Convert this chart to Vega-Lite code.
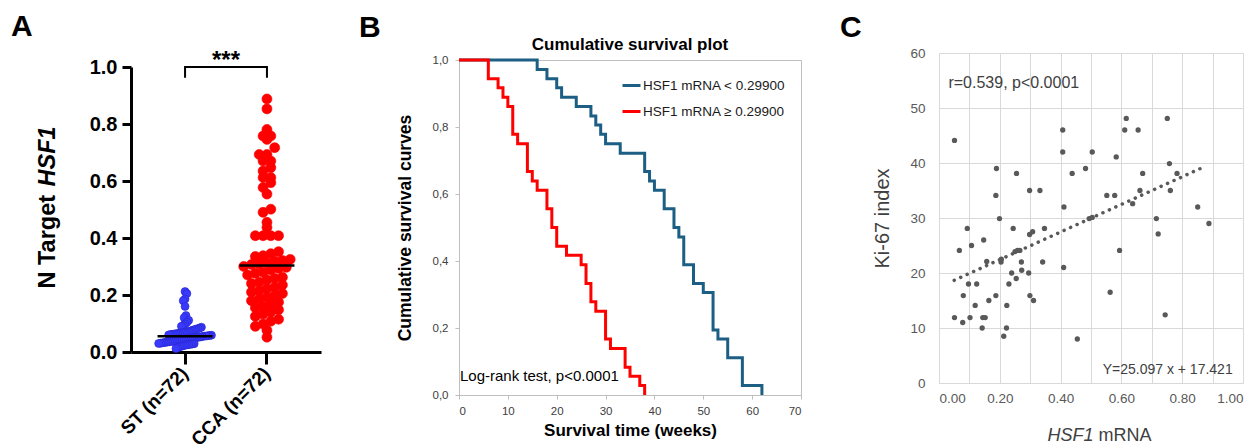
{
  "$schema": "https://vega.github.io/schema/vega-lite/v6.json",
  "background": "white",
  "padding": {"left": 11, "top": 11, "right": 0, "bottom": 0},
  "config": {"font": "Liberation Sans", "view": {"stroke": null}, "title": {"font": "Liberation Sans"}},
  "spacing": 37,
  "bounds": "full",
  "resolve": {"scale": {"color": "independent", "stroke": "independent", "size": "independent", "xOffset": "independent"}, "legend": {"color": "independent"}},
  "datasets": {
    "dotA": [
      {"group": "ST (n=72)", "value": 0.212}, {"group": "ST (n=72)", "value": 0.205}, {"group": "ST (n=72)", "value": 0.186}, {"group": "ST (n=72)", "value": 0.180}, {"group": "ST (n=72)", "value": 0.160}, {"group": "ST (n=72)", "value": 0.128}, {"group": "ST (n=72)", "value": 0.120}, {"group": "ST (n=72)", "value": 0.111}, {"group": "ST (n=72)", "value": 0.104}, {"group": "ST (n=72)", "value": 0.098}, {"group": "ST (n=72)", "value": 0.093}, {"group": "ST (n=72)", "value": 0.090}, {"group": "ST (n=72)", "value": 0.087}, {"group": "ST (n=72)", "value": 0.084}, {"group": "ST (n=72)", "value": 0.082}, {"group": "ST (n=72)", "value": 0.080}, {"group": "ST (n=72)", "value": 0.078}, {"group": "ST (n=72)", "value": 0.076}, {"group": "ST (n=72)", "value": 0.074}, {"group": "ST (n=72)", "value": 0.072}, {"group": "ST (n=72)", "value": 0.070}, {"group": "ST (n=72)", "value": 0.069}, {"group": "ST (n=72)", "value": 0.068}, {"group": "ST (n=72)", "value": 0.067}, {"group": "ST (n=72)", "value": 0.066}, {"group": "ST (n=72)", "value": 0.065}, {"group": "ST (n=72)", "value": 0.064}, {"group": "ST (n=72)", "value": 0.063}, {"group": "ST (n=72)", "value": 0.062}, {"group": "ST (n=72)", "value": 0.061}, {"group": "ST (n=72)", "value": 0.060}, {"group": "ST (n=72)", "value": 0.059}, {"group": "ST (n=72)", "value": 0.058}, {"group": "ST (n=72)", "value": 0.057}, {"group": "ST (n=72)", "value": 0.056}, {"group": "ST (n=72)", "value": 0.056},
      {"group": "ST (n=72)", "value": 0.054}, {"group": "ST (n=72)", "value": 0.053}, {"group": "ST (n=72)", "value": 0.052}, {"group": "ST (n=72)", "value": 0.051}, {"group": "ST (n=72)", "value": 0.050}, {"group": "ST (n=72)", "value": 0.049}, {"group": "ST (n=72)", "value": 0.048}, {"group": "ST (n=72)", "value": 0.047}, {"group": "ST (n=72)", "value": 0.046}, {"group": "ST (n=72)", "value": 0.045}, {"group": "ST (n=72)", "value": 0.044}, {"group": "ST (n=72)", "value": 0.043}, {"group": "ST (n=72)", "value": 0.042}, {"group": "ST (n=72)", "value": 0.041}, {"group": "ST (n=72)", "value": 0.040}, {"group": "ST (n=72)", "value": 0.039}, {"group": "ST (n=72)", "value": 0.038}, {"group": "ST (n=72)", "value": 0.037}, {"group": "ST (n=72)", "value": 0.036}, {"group": "ST (n=72)", "value": 0.035}, {"group": "ST (n=72)", "value": 0.034}, {"group": "ST (n=72)", "value": 0.033}, {"group": "ST (n=72)", "value": 0.032}, {"group": "ST (n=72)", "value": 0.031}, {"group": "ST (n=72)", "value": 0.030}, {"group": "ST (n=72)", "value": 0.029}, {"group": "ST (n=72)", "value": 0.028}, {"group": "ST (n=72)", "value": 0.027}, {"group": "ST (n=72)", "value": 0.026}, {"group": "ST (n=72)", "value": 0.025}, {"group": "ST (n=72)", "value": 0.024}, {"group": "ST (n=72)", "value": 0.022}, {"group": "ST (n=72)", "value": 0.020}, {"group": "ST (n=72)", "value": 0.018}, {"group": "ST (n=72)", "value": 0.015}, {"group": "ST (n=72)", "value": 0.012},
      {"group": "CCA (n=72)", "value": 0.888}, {"group": "CCA (n=72)", "value": 0.853}, {"group": "CCA (n=72)", "value": 0.781}, {"group": "CCA (n=72)", "value": 0.758}, {"group": "CCA (n=72)", "value": 0.758}, {"group": "CCA (n=72)", "value": 0.746}, {"group": "CCA (n=72)", "value": 0.717}, {"group": "CCA (n=72)", "value": 0.693}, {"group": "CCA (n=72)", "value": 0.693}, {"group": "CCA (n=72)", "value": 0.670}, {"group": "CCA (n=72)", "value": 0.670}, {"group": "CCA (n=72)", "value": 0.647}, {"group": "CCA (n=72)", "value": 0.635}, {"group": "CCA (n=72)", "value": 0.612}, {"group": "CCA (n=72)", "value": 0.612}, {"group": "CCA (n=72)", "value": 0.594}, {"group": "CCA (n=72)", "value": 0.577}, {"group": "CCA (n=72)", "value": 0.554}, {"group": "CCA (n=72)", "value": 0.501}, {"group": "CCA (n=72)", "value": 0.490}, {"group": "CCA (n=72)", "value": 0.455}, {"group": "CCA (n=72)", "value": 0.437}, {"group": "CCA (n=72)", "value": 0.408}, {"group": "CCA (n=72)", "value": 0.408}, {"group": "CCA (n=72)", "value": 0.408}, {"group": "CCA (n=72)", "value": 0.408},
      {"group": "CCA (n=72)", "value": 0.352}, {"group": "CCA (n=72)", "value": 0.345}, {"group": "CCA (n=72)", "value": 0.338}, {"group": "CCA (n=72)", "value": 0.335}, {"group": "CCA (n=72)", "value": 0.325}, {"group": "CCA (n=72)", "value": 0.321}, {"group": "CCA (n=72)", "value": 0.318}, {"group": "CCA (n=72)", "value": 0.312}, {"group": "CCA (n=72)", "value": 0.309}, {"group": "CCA (n=72)", "value": 0.307},
      {"group": "CCA (n=72)", "value": 0.300}, {"group": "CCA (n=72)", "value": 0.297}, {"group": "CCA (n=72)", "value": 0.293}, {"group": "CCA (n=72)", "value": 0.288}, {"group": "CCA (n=72)", "value": 0.280}, {"group": "CCA (n=72)", "value": 0.276}, {"group": "CCA (n=72)", "value": 0.270}, {"group": "CCA (n=72)", "value": 0.262}, {"group": "CCA (n=72)", "value": 0.258}, {"group": "CCA (n=72)", "value": 0.253}, {"group": "CCA (n=72)", "value": 0.245}, {"group": "CCA (n=72)", "value": 0.240}, {"group": "CCA (n=72)", "value": 0.235}, {"group": "CCA (n=72)", "value": 0.227}, {"group": "CCA (n=72)", "value": 0.222}, {"group": "CCA (n=72)", "value": 0.215}, {"group": "CCA (n=72)", "value": 0.210}, {"group": "CCA (n=72)", "value": 0.205}, {"group": "CCA (n=72)", "value": 0.198}, {"group": "CCA (n=72)", "value": 0.192}, {"group": "CCA (n=72)", "value": 0.186}, {"group": "CCA (n=72)", "value": 0.180}, {"group": "CCA (n=72)", "value": 0.175}, {"group": "CCA (n=72)", "value": 0.168}, {"group": "CCA (n=72)", "value": 0.160}, {"group": "CCA (n=72)", "value": 0.155}, {"group": "CCA (n=72)", "value": 0.148}, {"group": "CCA (n=72)", "value": 0.140}, {"group": "CCA (n=72)", "value": 0.133}, {"group": "CCA (n=72)", "value": 0.125}, {"group": "CCA (n=72)", "value": 0.115}, {"group": "CCA (n=72)", "value": 0.108}, {"group": "CCA (n=72)", "value": 0.098}, {"group": "CCA (n=72)", "value": 0.090}, {"group": "CCA (n=72)", "value": 0.076}, {"group": "CCA (n=72)", "value": 0.052}
    ],
    "km": [
      {"grp": "HSF1 mRNA < 0.29900", "t": 0, "s": 1.0}, {"grp": "HSF1 mRNA < 0.29900", "t": 16, "s": 0.972}, {"grp": "HSF1 mRNA < 0.29900", "t": 18, "s": 0.944}, {"grp": "HSF1 mRNA < 0.29900", "t": 20, "s": 0.917}, {"grp": "HSF1 mRNA < 0.29900", "t": 21, "s": 0.889}, {"grp": "HSF1 mRNA < 0.29900", "t": 24, "s": 0.861}, {"grp": "HSF1 mRNA < 0.29900", "t": 27, "s": 0.833}, {"grp": "HSF1 mRNA < 0.29900", "t": 28, "s": 0.806}, {"grp": "HSF1 mRNA < 0.29900", "t": 29, "s": 0.778}, {"grp": "HSF1 mRNA < 0.29900", "t": 30, "s": 0.75}, {"grp": "HSF1 mRNA < 0.29900", "t": 33, "s": 0.722}, {"grp": "HSF1 mRNA < 0.29900", "t": 38, "s": 0.667}, {"grp": "HSF1 mRNA < 0.29900", "t": 39, "s": 0.639}, {"grp": "HSF1 mRNA < 0.29900", "t": 40, "s": 0.611}, {"grp": "HSF1 mRNA < 0.29900", "t": 42, "s": 0.556}, {"grp": "HSF1 mRNA < 0.29900", "t": 44, "s": 0.5}, {"grp": "HSF1 mRNA < 0.29900", "t": 45, "s": 0.472}, {"grp": "HSF1 mRNA < 0.29900", "t": 46, "s": 0.389}, {"grp": "HSF1 mRNA < 0.29900", "t": 48, "s": 0.333}, {"grp": "HSF1 mRNA < 0.29900", "t": 50, "s": 0.306}, {"grp": "HSF1 mRNA < 0.29900", "t": 52, "s": 0.194}, {"grp": "HSF1 mRNA < 0.29900", "t": 53, "s": 0.167}, {"grp": "HSF1 mRNA < 0.29900", "t": 55, "s": 0.111}, {"grp": "HSF1 mRNA < 0.29900", "t": 58, "s": 0.028}, {"grp": "HSF1 mRNA < 0.29900", "t": 62, "s": 0.0},
      {"grp": "HSF1 mRNA ≥ 0.29900", "t": 0, "s": 1.0}, {"grp": "HSF1 mRNA ≥ 0.29900", "t": 6, "s": 0.944}, {"grp": "HSF1 mRNA ≥ 0.29900", "t": 8, "s": 0.917}, {"grp": "HSF1 mRNA ≥ 0.29900", "t": 9, "s": 0.889}, {"grp": "HSF1 mRNA ≥ 0.29900", "t": 10, "s": 0.861}, {"grp": "HSF1 mRNA ≥ 0.29900", "t": 11, "s": 0.778}, {"grp": "HSF1 mRNA ≥ 0.29900", "t": 12, "s": 0.75}, {"grp": "HSF1 mRNA ≥ 0.29900", "t": 14, "s": 0.667}, {"grp": "HSF1 mRNA ≥ 0.29900", "t": 15, "s": 0.639}, {"grp": "HSF1 mRNA ≥ 0.29900", "t": 16, "s": 0.611}, {"grp": "HSF1 mRNA ≥ 0.29900", "t": 18, "s": 0.556}, {"grp": "HSF1 mRNA ≥ 0.29900", "t": 19, "s": 0.5}, {"grp": "HSF1 mRNA ≥ 0.29900", "t": 20, "s": 0.444}, {"grp": "HSF1 mRNA ≥ 0.29900", "t": 22, "s": 0.417}, {"grp": "HSF1 mRNA ≥ 0.29900", "t": 25, "s": 0.389}, {"grp": "HSF1 mRNA ≥ 0.29900", "t": 26, "s": 0.333}, {"grp": "HSF1 mRNA ≥ 0.29900", "t": 27, "s": 0.278}, {"grp": "HSF1 mRNA ≥ 0.29900", "t": 28, "s": 0.25}, {"grp": "HSF1 mRNA ≥ 0.29900", "t": 30, "s": 0.167}, {"grp": "HSF1 mRNA ≥ 0.29900", "t": 31, "s": 0.139}, {"grp": "HSF1 mRNA ≥ 0.29900", "t": 34, "s": 0.083}, {"grp": "HSF1 mRNA ≥ 0.29900", "t": 35, "s": 0.056}, {"grp": "HSF1 mRNA ≥ 0.29900", "t": 37, "s": 0.028}, {"grp": "HSF1 mRNA ≥ 0.29900", "t": 38, "s": 0.0}
    ],
    "scat": [
      {"x": 0.051, "y": 44.1}, {"x": 0.616, "y": 48.1}, {"x": 0.751, "y": 48.1}, {"x": 0.407, "y": 46.0}, {"x": 0.611, "y": 46.0}, {"x": 0.655, "y": 46.0}, {"x": 0.407, "y": 42.0}, {"x": 0.504, "y": 42.0}, {"x": 0.583, "y": 41.1}, {"x": 0.758, "y": 39.9},
      {"x": 0.189, "y": 39.0}, {"x": 0.482, "y": 39.0}, {"x": 0.255, "y": 38.1}, {"x": 0.438, "y": 38.1}, {"x": 0.670, "y": 38.1}, {"x": 0.783, "y": 38.1}, {"x": 0.298, "y": 35.0}, {"x": 0.332, "y": 35.0}, {"x": 0.552, "y": 34.1}, {"x": 0.578, "y": 34.1},
      {"x": 0.661, "y": 35.0}, {"x": 0.761, "y": 35.0}, {"x": 0.187, "y": 34.1}, {"x": 0.411, "y": 32.0}, {"x": 0.637, "y": 32.6}, {"x": 0.851, "y": 32.0}, {"x": 0.199, "y": 29.9}, {"x": 0.494, "y": 29.9}, {"x": 0.504, "y": 30.1}, {"x": 0.715, "y": 29.9},
      {"x": 0.888, "y": 29.0}, {"x": 0.721, "y": 27.1}, {"x": 0.093, "y": 28.1}, {"x": 0.244, "y": 28.1}, {"x": 0.347, "y": 28.1}, {"x": 0.298, "y": 27.0}, {"x": 0.308, "y": 27.5}, {"x": 0.147, "y": 26.0}, {"x": 0.107, "y": 25.0}, {"x": 0.067, "y": 24.1},
      {"x": 0.250, "y": 23.9}, {"x": 0.258, "y": 24.1}, {"x": 0.266, "y": 24.1}, {"x": 0.594, "y": 24.1}, {"x": 0.157, "y": 22.1}, {"x": 0.204, "y": 22.0}, {"x": 0.205, "y": 22.5}, {"x": 0.271, "y": 22.0}, {"x": 0.341, "y": 22.0}, {"x": 0.410, "y": 21.0},
      {"x": 0.239, "y": 20.0}, {"x": 0.295, "y": 20.0}, {"x": 0.272, "y": 20.5}, {"x": 0.254, "y": 19.0}, {"x": 0.097, "y": 18.0}, {"x": 0.124, "y": 18.0}, {"x": 0.230, "y": 18.0}, {"x": 0.563, "y": 16.5}, {"x": 0.080, "y": 15.9}, {"x": 0.187, "y": 15.9},
      {"x": 0.299, "y": 15.9}, {"x": 0.164, "y": 15.0}, {"x": 0.311, "y": 15.0}, {"x": 0.119, "y": 14.1}, {"x": 0.223, "y": 14.1}, {"x": 0.744, "y": 12.4}, {"x": 0.051, "y": 11.9}, {"x": 0.102, "y": 11.9}, {"x": 0.144, "y": 11.9}, {"x": 0.152, "y": 11.9},
      {"x": 0.078, "y": 11.0}, {"x": 0.142, "y": 10.0}, {"x": 0.222, "y": 10.0}, {"x": 0.213, "y": 8.5}, {"x": 0.455, "y": 8.0}
    ]
  },
  "hconcat": [
    {"spacing": 0, "vconcat": [
    {"width": 1, "height": 1, "data": {"values": []}, "mark": "point"},
    {
      "width": 190,
      "height": 285,
      "title": {"text": "A", "anchor": "start", "frame": "group", "fontSize": 30, "fontWeight": "bold", "color": "black", "dx": -120, "offset": 7},
      "resolve": {"axis": {"y": "independent"}},
      "layer": [
        {
          "data": {"name": "dotA"},
          "transform": [
            {"bin": {"step": 0.03, "extent": [0, 1]}, "field": "value", "as": "vbin"},
            {"window": [{"op": "row_number", "as": "rn"}], "groupby": ["group", "vbin"], "sort": [{"field": "value", "order": "ascending"}]},
            {"joinaggregate": [{"op": "count", "as": "cnt"}], "groupby": ["group", "vbin"]},
            {"calculate": "(datum.rn - (datum.cnt + 1) / 2) * (datum.group == 'ST (n=72)' ? 0.2 : 0.85)", "as": "off"}
          ],
          "mark": {"type": "circle", "opacity": 1, "strokeWidth": 0.6},
          "encoding": {
            "x": {"field": "group", "type": "nominal", "scale": {"domain": ["ST (n=72)", "CCA (n=72)"], "paddingInner": 0, "paddingOuter": 0.16},
              "axis": {"title": null, "labelAngle": -45, "labelAlign": "right", "labelBaseline": "middle", "labelFontSize": 19, "labelFontWeight": "bold", "labelColor": "black", "domainColor": "black", "domainWidth": 3, "tickColor": "black", "tickWidth": 3, "tickSize": 12, "labelPadding": 6}},
            "xOffset": {"field": "off", "type": "quantitative", "scale": {"domain": [-4.5, 4.5]}},
            "y": {"field": "value", "type": "quantitative", "scale": {"domain": [0, 1], "nice": false},
              "axis": {"values": [0, 0.2, 0.4, 0.6, 0.8, 1.0], "format": ".1f", "grid": false, "labelFontSize": 20, "labelFontWeight": "bold", "labelColor": "black", "domainColor": "black", "domainWidth": 3, "tickColor": "black", "tickWidth": 3, "tickSize": 9, "labelPadding": 5,
                "title": "N Target", "titleFontSize": 23.5, "titleFontWeight": "bold", "titleColor": "black", "titleAngle": 270, "titleAlign": "left", "titleBaseline": "middle", "titleX": -84, "titleY": 221}},
            "color": {"field": "group", "type": "nominal", "scale": {"domain": ["ST (n=72)", "CCA (n=72)"], "range": ["#3a3aff", "#ff0000"]}, "legend": null},
            "stroke": {"field": "group", "type": "nominal", "scale": {"domain": ["ST (n=72)", "CCA (n=72)"], "range": ["#2525c8", "#ff0000"]}, "legend": null},
            "size": {"field": "group", "type": "nominal", "scale": {"domain": ["ST (n=72)", "CCA (n=72)"], "range": [64, 100]}, "legend": null}
          }
        },
        {
          "data": {"name": "dotA"},
          "mark": {"type": "tick", "color": "black", "thickness": 2.5, "size": 55, "opacity": 1},
          "encoding": {
            "x": {"field": "group", "type": "nominal", "scale": {"domain": ["ST (n=72)", "CCA (n=72)"]}},
            "y": {"aggregate": "median", "field": "value", "type": "quantitative",
              "axis": {"orient": "left", "labels": false, "ticks": false, "domain": false, "grid": false, "title": "HSF1", "titleFontSize": 23.5, "titleFontWeight": "bold", "titleFontStyle": "italic", "titleColor": "black", "titleAngle": 270, "titleAlign": "left", "titleBaseline": "middle", "titleX": -84, "titleY": 119}}
          }
        },
        {
          "data": {"values": [
            {"group": "ST (n=72)", "value": 0.962, "k": 1},
            {"group": "ST (n=72)", "value": 1.0, "k": 2},
            {"group": "CCA (n=72)", "value": 1.0, "k": 3},
            {"group": "CCA (n=72)", "value": 0.962, "k": 4}
          ]},
          "mark": {"type": "line", "color": "black", "strokeWidth": 2},
          "encoding": {
            "x": {"field": "group", "type": "nominal", "scale": {"domain": ["ST (n=72)", "CCA (n=72)"]}},
            "y": {"field": "value", "type": "quantitative", "axis": null},
            "order": {"field": "k", "type": "quantitative"}
          }
        },
        {
          "data": {"values": [{"group": "ST (n=72)", "value": 0.995, "off": 4.5, "label": "***"}]},
          "mark": {"type": "text", "fontSize": 24, "fontWeight": "bold", "baseline": "alphabetic", "align": "center", "color": "black"},
          "encoding": {
            "x": {"field": "group", "type": "nominal", "scale": {"domain": ["ST (n=72)", "CCA (n=72)"]}},
            "xOffset": {"field": "off", "type": "quantitative"},
            "y": {"field": "value", "type": "quantitative", "axis": null},
            "text": {"field": "label"}
          }
        }
      ]
    }]},
    {"spacing": 0, "resolve": {"scale": {"color": "independent"}, "legend": {"color": "independent"}}, "vconcat": [
    {"width": 1, "height": 1, "data": {"values": []}, "mark": "point"},
    {
      "width": 342,
      "height": 335,
      "title": {"text": "B", "anchor": "start", "frame": "group", "fontSize": 30, "fontWeight": "bold", "color": "black", "dx": -100, "offset": -7},
      "view": {"stroke": "#bfbfbf"},
      "layer": [
        {
          "data": {"name": "km"},
          "mark": {"type": "line", "interpolate": "step-after", "strokeWidth": 3},
          "encoding": {
            "x": {"field": "t", "type": "quantitative", "scale": {"domain": [0, 70], "nice": false},
              "axis": {"values": [0, 10, 20, 30, 40, 50, 60, 70], "grid": false, "domainColor": "#bfbfbf", "tickColor": "#bfbfbf", "tickSize": 4, "labelFontSize": 11.5, "labelColor": "#404040", "labelPadding": 6,
                "title": "Survival time (weeks)", "titleFontSize": 17, "titleFontWeight": "bold", "titleColor": "black", "titlePadding": 6}},
            "y": {"field": "s", "type": "quantitative", "scale": {"domain": [0, 1], "nice": false},
              "axis": {"values": [0, 0.1, 0.2, 0.3, 0.4, 0.5, 0.6, 0.7, 0.8, 0.9, 1.0], "labelOverlap": false, "labelExpr": "replace(format(datum.value, '.1f'), '.', ',')", "grid": false, "domainColor": "#bfbfbf", "tickColor": "#bfbfbf", "tickSize": 4, "labelFontSize": 11.5, "labelColor": "#404040", "labelPadding": 7,
                "title": "Cumulative survival curves", "titleFontSize": 17.5, "titleFontWeight": "bold", "titleColor": "black", "titlePadding": 18}},
            "color": {"field": "grp", "type": "nominal", "scale": {"domain": ["HSF1 mRNA < 0.29900", "HSF1 mRNA ≥ 0.29900"], "range": ["#1d5e84", "#ff0000"]},
              "legend": {"orient": "top-right", "offset": 15, "title": null, "symbolType": "stroke", "symbolStrokeWidth": 3, "symbolSize": 324, "labelFontSize": 13.5, "labelColor": "#1a1a1a", "labelOffset": 1, "rowPadding": 9}}
          }
        },
        {
          "data": {"values": [{"t": 35, "s": 1.045, "label": "Cumulative survival plot"}]},
          "mark": {"type": "text", "fontSize": 17, "fontWeight": "bold", "color": "black", "baseline": "middle", "align": "center"},
          "encoding": {"x": {"field": "t", "type": "quantitative"}, "y": {"field": "s", "type": "quantitative"}, "text": {"field": "label"}}
        },
        {
          "data": {"values": [{"t": 0.2, "s": 0.056, "label": "Log-rank test, p<0.0001"}]},
          "mark": {"type": "text", "fontSize": 15, "color": "black", "baseline": "middle", "align": "left"},
          "encoding": {"x": {"field": "t", "type": "quantitative"}, "y": {"field": "s", "type": "quantitative"}, "text": {"field": "label"}}
        }
      ]
    }]},
    {"spacing": 0, "vconcat": [
    {"width": 1, "height": 1, "data": {"values": []}, "mark": "point"},
    {
      "width": 304,
      "height": 330,
      "title": {"text": "C", "anchor": "start", "frame": "group", "fontSize": 30, "fontWeight": "bold", "color": "black", "dx": -99, "offset": 3},
      "view": {"stroke": "#d9d9d9"},
      "resolve": {"axis": {"x": "independent"}},
      "layer": [
        {
          "data": {"name": "scat"},
          "mark": {"type": "circle", "size": 28, "color": "#595959", "opacity": 1},
          "encoding": {
            "x": {"field": "x", "type": "quantitative", "scale": {"domain": [0, 1], "nice": false},
              "axis": {"orient": "bottom", "values": [0, 0.1, 0.2, 0.3, 0.4, 0.5, 0.6, 0.7, 0.8, 0.9, 1.0], "labelExpr": "round(datum.value * 10) % 2 == 0 ? format(datum.value, '.2f') : ''", "grid": true, "gridColor": "#d9d9d9", "domain": false, "ticks": false, "labelFontSize": 13.5, "labelColor": "#595959", "labelPadding": 8,
                "title": "HSF1", "titleFontSize": 18, "titleFontWeight": "normal", "titleFontStyle": "italic", "titleColor": "#404040", "titleAngle": 0, "titleAlign": "left", "titleBaseline": "middle", "titleX": 108, "titleY": 52}},
            "y": {"field": "y", "type": "quantitative", "scale": {"domain": [0, 60], "nice": false},
              "axis": {"values": [0, 10, 20, 30, 40, 50, 60], "grid": true, "gridColor": "#d9d9d9", "domain": false, "ticks": false, "labelFontSize": 13.5, "labelColor": "#595959", "labelPadding": 14,
                "title": "Ki-67 index", "titleFontSize": 20, "titleFontWeight": "normal", "titleColor": "#404040", "titlePadding": 17}}
          }
        },
        {
          "data": {"values": [{"x": 0.05, "y": 18.67}, {"x": 0.87, "y": 39.25}]},
          "mark": {"type": "line", "color": "#595959", "strokeWidth": 3.5, "strokeDash": [0.1, 7], "strokeCap": "round"},
          "encoding": {
            "x": {"field": "x", "type": "quantitative",
              "axis": {"orient": "bottom", "labels": false, "ticks": false, "domain": false, "grid": false, "title": "mRNA", "titleFontSize": 18, "titleFontWeight": "normal", "titleColor": "#404040", "titleAngle": 0, "titleAlign": "left", "titleBaseline": "middle", "titleX": 159, "titleY": 52}},
            "y": {"field": "y", "type": "quantitative"}
          }
        },
        {
          "data": {"values": [{"x": 0.031, "y": 54.5, "label": "r=0.539, p<0.0001"}]},
          "mark": {"type": "text", "fontSize": 16, "color": "#404040", "align": "left", "baseline": "middle"},
          "encoding": {"x": {"field": "x", "type": "quantitative", "axis": null}, "y": {"field": "y", "type": "quantitative"}, "text": {"field": "label"}}
        },
        {
          "data": {"values": [{"x": 0.966, "y": 2.4, "label": "Y=25.097 x + 17.421"}]},
          "mark": {"type": "text", "fontSize": 14, "color": "#404040", "align": "right", "baseline": "middle"},
          "encoding": {"x": {"field": "x", "type": "quantitative", "axis": null}, "y": {"field": "y", "type": "quantitative"}, "text": {"field": "label"}}
        }
      ]
    }]}
  ]
}
